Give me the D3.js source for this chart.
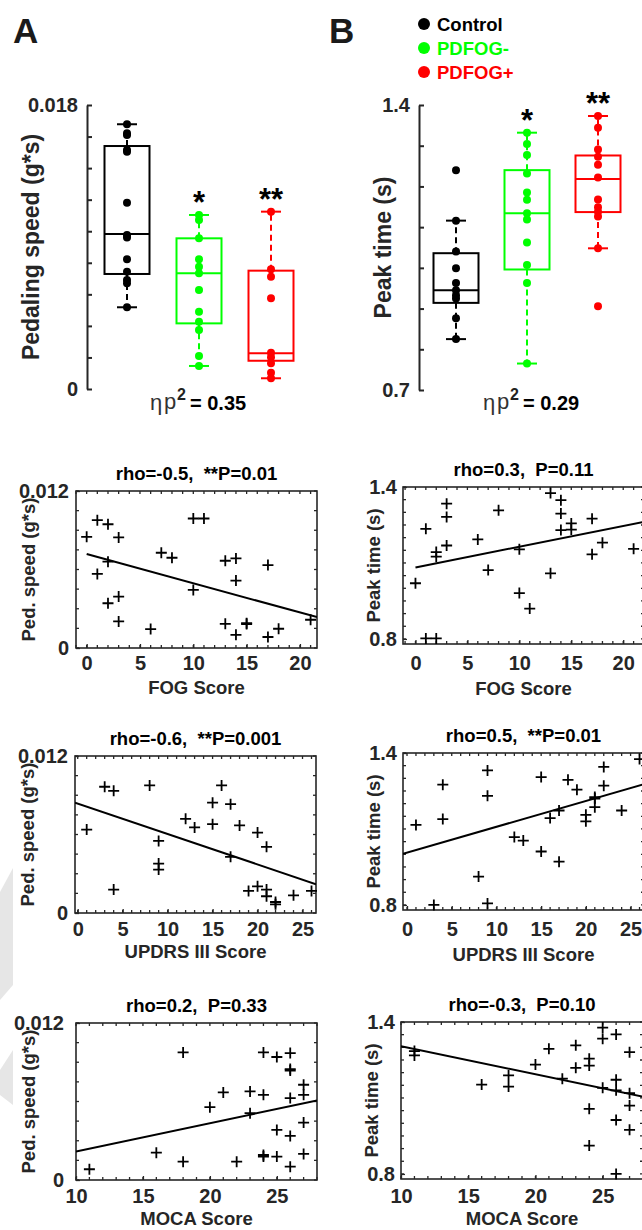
<!DOCTYPE html>
<html><head><meta charset="utf-8">
<script src="https://cdn.jsdelivr.net/npm/d3@7"></script>
<style>
body{margin:0;background:#fff}
svg{display:block}
text{font-family:Arial,"Liberation Sans",Helvetica,sans-serif}
</style>
</head><body>
<svg id="c" width="642" height="1230"></svg>
<script>
// ---------------- DATA ----------------
const groups = ["Control", "PDFOG-", "PDFOG+"];
const groupColors = ["#000000", "#00ff00", "#ff0000"];

// Panel A: pedaling speed (g*s)
const speedControl = [0.01678,0.01621,0.01610,0.01515,0.01504,0.01181,0.00976,0.00961,0.00822,0.00743,0.00691,0.00670,0.00518];
const speedPDFOGneg = [0.01103,0.01071,0.00955,0.00822,0.00775,0.00733,0.00627,0.00490,0.00427,0.00374,0.00209,0.00146];
const speedPDFOGpos = [0.01124,0.00759,0.00712,0.00575,0.00230,0.00201,0.00163,0.00103,0.00068];
// [lower whisker, q1, median, q3, upper whisker]
const speedBoxControl = [0.00518,0.00729,0.00982,0.01540,0.01678];
const speedBoxPDFOGneg = [0.00146,0.00416,0.00733,0.00955,0.01103];
const speedBoxPDFOGpos = [0.00068,0.00179,0.00226,0.00750,0.01124];
const speedStars = ["", "*", "**"];
const speedTickValues = [0, 0.018];
const speedTickLabels = ["0", "0.018"];
const speedEta = "0.35";

// Panel B: peak time (s)
const peakControl = [1.240,1.116,1.040,0.999,0.963,0.945,0.933,0.925,0.876,0.825];
const peakPDFOGneg = [1.332,1.304,1.277,1.232,1.185,1.167,1.134,1.119,1.062,1.007,0.963,0.765];
const peakPDFOGpos = [1.373,1.344,1.291,1.273,1.253,1.222,1.168,1.149,1.138,1.126,1.048,0.906];
const peakBoxControl = [0.825,0.914,0.945,1.036,1.116];
const peakBoxPDFOGneg = [0.765,0.996,1.134,1.240,1.332];
const peakBoxPDFOGpos = [1.048,1.137,1.218,1.276,1.373];
const peakStars = ["", "*", "**"];
const peakTickValues = [0.7, 1.4];
const peakTickLabels = ["0.7", "1.4"];
const peakEta = "0.29";

// Scatter: FOG score
const fogScoreA = [0,1,2,3,2,1,2,3,3,6,7,8,10,11,10,13,14,14,13,14,15,15,17,17,18,21];
const pedSpeedVsFog = [0.0085,0.00977,0.00946,0.00845,0.0066,0.00566,0.00342,0.00393,0.00203,0.00145,0.00728,0.0069,0.0099,0.0099,0.00444,0.00667,0.00685,0.00515,0.00185,0.00101,0.0019,0.00183,0.00634,0.00084,0.00147,0.00216];
const fitSpeedFog = [[0,0.00718],[21.6,0.00236]];
const fogScoreB = [0,1,1,2,2,2,3,3,3,6,7,8,10,10,11,13,13,14,14,14,15,15,17,17,18,21];
const peakVsFog = [1.020,1.235,0.802,0.802,1.143,1.125,1.334,1.282,1.169,1.193,1.072,1.308,1.154,0.981,0.920,1.376,1.059,1.348,1.295,1.230,1.256,1.232,1.275,1.134,1.180,1.156];
const fitPeakFog = [[0,1.082],[23,1.271]];

// Scatter: UPDRS III score
const updrsScoreA = [1,3,4,4,8,9,9,9,12,13,15,15,16,17,17,18,20,21,19,20,21,21,22,22,24,26];
const pedSpeedVsUpdrs = [0.00638,0.00965,0.00934,0.00179,0.00975,0.00551,0.00378,0.00332,0.0072,0.00654,0.00843,0.00679,0.00975,0.00832,0.00429,0.00669,0.00615,0.00506,0.00169,0.00204,0.00179,0.00128,0.00084,0.00066,0.00135,0.00169];
const fitSpeedUpdrs = [[-0.3,0.00843],[26.5,0.0022]];
const updrsScoreB = [1,3,4,4,8,9,9,9,12,13,15,15,16,17,17,18,19,20,20,21,21,22,22,24,26,21];
const peakVsUpdrs = [1.116,0.800,1.275,1.139,0.912,1.331,1.231,0.806,1.068,1.054,1.305,1.011,1.143,1.173,0.971,1.294,1.255,1.156,1.130,1.226,1.186,1.345,1.271,1.173,1.376,1.220];
const fitPeakUpdrs = [[-0.45,1.002],[28,1.292]];

// Scatter: MOCA score
const mocaScoreA = [11,16,18,18,20,21,22,23,23,24,24,24,24,25,25,25,26,26,26,26,26,26,27,27,27,27];
const pedSpeedVsMoca = [0.00082,0.00209,0.00975,0.0014,0.00557,0.00669,0.0014,0.00677,0.00511,0.00975,0.00651,0.00191,0.00179,0.0094,0.00383,0.00179,0.0097,0.00848,0.00837,0.00626,0.00337,0.00102,0.00728,0.00651,0.00439,0.00199];
const fitSpeedMoca = [[10,0.00217],[28,0.00608]];
const mocaScoreB = [11,11,16,18,18,20,21,22,23,23,24,24,24,24,25,25,25,26,26,26,26,26,27,27,27,27];
const peakVsMoca = [1.285,1.268,1.153,1.189,1.145,1.232,1.294,1.176,1.308,1.219,1.255,1.228,1.057,0.912,1.378,1.334,1.140,1.351,1.172,1.130,1.013,0.800,1.281,1.119,1.070,0.974];
const fitPeakMoca = [[10,1.304],[29,1.094]];

const scatterTitles = ["rho=-0.5,  **P=0.01","rho=0.3,  P=0.11","rho=-0.6,  **P=0.001","rho=0.5,  **P=0.01","rho=0.2,  P=0.33","rho=-0.3,  P=0.10"];
const fogTicks = [0,5,10,15,20];
const updrsTicks = [0,5,10,15,20,25];
const mocaTicks = [10,15,20,25];
const speedScatterTicks = [0, 0.012];
const speedScatterTickLabels = ["0", "0.012"];
const peakScatterTicks = [0.8, 1.4];
const peakScatterTickLabels = ["0.8", "1.4"];

// ---------------- DRAW ----------------
const svg = d3.select("#c");
svg.append("rect").attr("width",642).attr("height",1230).attr("fill","#fff");
const AX = "#262626";
const FONT = 'Arial,"Liberation Sans",Helvetica,sans-serif';

// faint watermark shapes at the left edge
const wm = [[[0,892],[13,868],[13,985],[0,1000]],[[0,1070],[13,1050],[13,1105],[0,1095]]];
wm.forEach(p => svg.append("path").attr("d", d3.line()(p) + "Z").attr("fill", "#e6e6e6"));

// panel letters
svg.append("text").attr("x",13).attr("y",43).attr("font-size",35).attr("font-weight","bold").attr("fill","#1a1a1a").text("A");
svg.append("text").attr("x",329).attr("y",43).attr("font-size",35).attr("font-weight","bold").attr("fill","#1a1a1a").text("B");

// legend
const leg = svg.append("g");
groups.forEach((gname, i) => {
  leg.append("circle").attr("cx",424).attr("cy",24 + i*24).attr("r",6).attr("fill",groupColors[i]);
  leg.append("text").attr("x",437).attr("y",30.5 + i*24).attr("font-size",18.5).attr("font-weight","bold")
    .attr("fill",groupColors[i]).text(gname);
});

function boxPanel(cfg) {
  const y = d3.scaleLinear().domain(cfg.yDomain).range([cfg.bottom, cfg.top]);
  const x = d3.scalePoint().domain(groups).range(cfg.xRange);
  const n = Math.round((cfg.yDomain[1]-cfg.yDomain[0])/cfg.step);
  const tv = d3.range(n+1).map(i => cfg.yDomain[0] + i*cfg.step);
  const axis = d3.axisLeft(y).tickValues(tv).tickSizeInner(-5).tickSizeOuter(0).tickPadding(9)
    .tickFormat(d => { const k = cfg.tickValues.findIndex(v => Math.abs(v-d) < 1e-9); return k >= 0 ? cfg.tickLabels[k] : ""; });
  const g = svg.append("g").attr("transform", `translate(${cfg.axisX},0)`).call(axis);
  g.select(".domain").attr("stroke", AX).attr("stroke-width", 2);
  g.selectAll(".tick line").attr("stroke", AX).attr("stroke-width", 2);
  g.selectAll(".tick text").attr("font-size", 20).attr("font-weight","bold").attr("fill", AX).attr("font-family", FONT);

  const bw = 45, cw = 10;
  groups.forEach((gname, i) => {
    const s = cfg.stats[i], col = groupColors[i], cx = x(gname);
    const gg = svg.append("g");
    gg.append("line").attr("x1",cx).attr("x2",cx).attr("y1",y(s[3])).attr("y2",y(s[4]))
      .attr("stroke",col).attr("stroke-width",2).attr("stroke-dasharray","6,4");
    gg.append("line").attr("x1",cx).attr("x2",cx).attr("y1",y(s[1])).attr("y2",y(s[0]))
      .attr("stroke",col).attr("stroke-width",2).attr("stroke-dasharray","6,4");
    [s[0], s[4]].forEach(v => gg.append("line").attr("x1",cx-cw).attr("x2",cx+cw).attr("y1",y(v)).attr("y2",y(v))
      .attr("stroke",col).attr("stroke-width",2));
    gg.append("rect").attr("x",cx-bw/2).attr("width",bw).attr("y",y(s[3])).attr("height",y(s[1])-y(s[3]))
      .attr("fill","none").attr("stroke",col).attr("stroke-width",2);
    gg.append("line").attr("x1",cx-bw/2).attr("x2",cx+bw/2).attr("y1",y(s[2])).attr("y2",y(s[2]))
      .attr("stroke",col).attr("stroke-width",2);
    gg.selectAll("circle.pt").data(cfg.points[i]).join("circle").attr("class","pt")
      .attr("cx",cx).attr("cy",d => y(d)).attr("r",4).attr("fill",col);
    if (cfg.stars[i]) {
      svg.append("text").attr("x",cx).attr("y",y(s[4]) - 2).attr("text-anchor","middle")
        .attr("font-size",31).attr("font-weight","bold").attr("fill","#000").text(cfg.stars[i]);
    }
  });

  // y label
  svg.append("text").attr("transform",`translate(${cfg.labelX},${(cfg.top+cfg.bottom)/2}) rotate(-90)`)
    .attr("text-anchor","middle").attr("font-size",23).attr("font-weight","bold").attr("fill",AX).text(cfg.label);

  // eta_p^2
  const ex = cfg.etaX, ey = 410;
  svg.append("text").attr("x",ex).attr("y",ey).attr("font-size",22).attr("fill","#333").text("η");
  svg.append("text").attr("x",ex+14).attr("y",ey-1).attr("font-size",22).attr("fill","#333").text("p");
  svg.append("text").attr("x",ex+27).attr("y",ey-10).attr("font-size",16).attr("font-weight","bold").attr("fill","#222").text("2");
  svg.append("text").attr("x",ex+40).attr("y",ey).attr("font-size",20).attr("font-weight","bold").attr("fill","#000").text("= " + cfg.eta);
}

boxPanel({yDomain:[0,0.018], step:0.002, top:105, bottom:389, axisX:87, xRange:[127,271],
  stats:[speedBoxControl, speedBoxPDFOGneg, speedBoxPDFOGpos], points:[speedControl, speedPDFOGneg, speedPDFOGpos],
  stars:speedStars, tickValues:speedTickValues, tickLabels:speedTickLabels, label:"Pedaling speed (g*s)", labelX:39,
  etaX:150, eta:speedEta});
boxPanel({yDomain:[0.7,1.4], step:0.1, top:105, bottom:390, axisX:419, xRange:[456,598],
  stats:[peakBoxControl, peakBoxPDFOGneg, peakBoxPDFOGpos], points:[peakControl, peakPDFOGneg, peakPDFOGpos],
  stars:peakStars, tickValues:peakTickValues, tickLabels:peakTickLabels, label:"Peak time (s)", labelX:391,
  etaX:483, eta:peakEta});

let clipId = 0;
function scatter(cfg) {
  const x = d3.scaleLinear().domain(cfg.xDomain).range([cfg.x0, cfg.x0 + cfg.w]);
  const y = d3.scaleLinear().domain(cfg.yDomain).range([cfg.y0 + cfg.h, cfg.y0]);
  const g = svg.append("g");
  const id = "clip" + (clipId++);
  g.append("clipPath").attr("id", id).append("rect").attr("x",cfg.x0).attr("y",cfg.y0).attr("width",cfg.w).attr("height",cfg.h);

  // minor ticks
  const xm = d3.range(Math.ceil(cfg.xDomain[0]), Math.floor(cfg.xDomain[1]) + 1, 1);
  xm.forEach(v => {
    const px = x(v);
    g.append("line").attr("x1",px).attr("x2",px).attr("y1",cfg.y0+cfg.h).attr("y2",cfg.y0+cfg.h-3).attr("stroke",AX).attr("stroke-width",1.3);
    g.append("line").attr("x1",px).attr("x2",px).attr("y1",cfg.y0).attr("y2",cfg.y0+3).attr("stroke",AX).attr("stroke-width",1.3);
  });
  const ny = Math.floor((cfg.yDomain[1] - cfg.yStart) / cfg.yStep + 1e-6);
  d3.range(ny + 1).map(i => cfg.yStart + i*cfg.yStep).forEach(v => {
    const py = y(v);
    g.append("line").attr("x1",cfg.x0).attr("x2",cfg.x0+3).attr("y1",py).attr("y2",py).attr("stroke",AX).attr("stroke-width",1.3);
    g.append("line").attr("x1",cfg.x0+cfg.w).attr("x2",cfg.x0+cfg.w-3).attr("y1",py).attr("y2",py).attr("stroke",AX).attr("stroke-width",1.3);
  });

  // axes (labels)
  const xa = d3.axisBottom(x).tickValues(cfg.xTicks).tickSizeInner(-4).tickSizeOuter(0).tickPadding(cfg.xTickBase - 14.2);
  const gx = g.append("g").attr("transform",`translate(0,${cfg.y0+cfg.h})`).call(xa);
  gx.select(".domain").remove();
  gx.selectAll(".tick line").attr("stroke",AX).attr("stroke-width",1.3);
  gx.selectAll(".tick text").attr("font-size",20).attr("font-weight","bold").attr("fill",AX).attr("font-family",FONT);

  const ya = d3.axisLeft(y).tickValues(cfg.yTicks).tickSizeInner(-4).tickSizeOuter(0).tickPadding(cfg.yPad)
    .tickFormat((d, i) => cfg.yTickLabels[i]);
  const gy = g.append("g").attr("transform",`translate(${cfg.x0},0)`).call(ya);
  gy.select(".domain").remove();
  gy.selectAll(".tick line").attr("stroke",AX).attr("stroke-width",1.3);
  gy.selectAll(".tick text").attr("font-size",20).attr("font-weight","bold").attr("fill",AX).attr("font-family",FONT);

  // box
  g.append("rect").attr("x",cfg.x0).attr("y",cfg.y0).attr("width",cfg.w).attr("height",cfg.h)
    .attr("fill","none").attr("stroke",AX).attr("stroke-width",1.6);

  // regression line
  g.append("path").attr("clip-path",`url(#${id})`)
    .attr("d", d3.line().x(d => x(d[0])).y(d => y(d[1]))(cfg.fit))
    .attr("fill","none").attr("stroke","#000").attr("stroke-width",2);

  // crosses
  const pts = cfg.xs.map((v, i) => [v, cfg.ys[i]]);
  const s = 5.5;
  g.selectAll("path.cross").data(pts).join("path").attr("class","cross")
    .attr("d", d => { const px = x(d[0]), py = y(d[1]); return `M${px-s},${py}H${px+s}M${px},${py-s}V${py+s}`; })
    .attr("stroke","#000").attr("stroke-width",1.8).attr("fill","none");

  // title
  g.append("text").attr("x",cfg.x0 + cfg.w/2).attr("y",cfg.y0 - 11).attr("text-anchor","middle")
    .attr("font-size",18.5).attr("font-weight","bold").attr("fill","#000").style("white-space","pre").text(cfg.title);
  // x label
  g.append("text").attr("x",cfg.x0 + cfg.w/2).attr("y",cfg.y0 + cfg.h + cfg.xLabelOff).attr("text-anchor","middle")
    .attr("font-size",18.5).attr("font-weight","bold").attr("fill",AX).text(cfg.xLabel);
  // y label
  g.append("text").attr("transform",`translate(${cfg.x0 - cfg.yLabelOff},${cfg.y0 + cfg.h/2}) rotate(-90)`)
    .attr("text-anchor","middle").attr("font-size",18.5).attr("font-weight","bold").attr("fill",AX).text(cfg.yLabel);
}

const leftSpeed = {yDomain:[0,0.012], yStart:0, yStep:0.0015, yTicks:speedScatterTicks, yTickLabels:speedScatterTickLabels, yLabel:"Ped. speed (g*s)", yLabelOff:41, yPad:7};
const rightPeak = {yDomain:[0.78,1.4], yStart:0.8, yStep:0.05, yTicks:peakScatterTicks, yTickLabels:peakScatterTickLabels, yLabel:"Peak time (s)", yLabelOff:23, yPad:6};

scatter(Object.assign({}, leftSpeed, {x0:76, y0:491, w:241, h:157, xDomain:[-1,21.6], xTicks:fogTicks, xTickBase:22, xLabelOff:46,
  xs:fogScoreA, ys:pedSpeedVsFog, fit:fitSpeedFog, title:scatterTitles[0], xLabel:"FOG Score"}));
scatter(Object.assign({}, rightPeak, {x0:403, y0:487, w:241, h:157, xDomain:[-1.2,22], xTicks:fogTicks, xTickBase:26, xLabelOff:51,
  xs:fogScoreB, ys:peakVsFog, fit:fitPeakFog, title:scatterTitles[1], xLabel:"FOG Score"}));
scatter(Object.assign({}, leftSpeed, {x0:75, y0:756, w:241, h:157, xDomain:[-0.3,26.5], xTicks:updrsTicks, xTickBase:22.5, xLabelOff:45,
  xs:updrsScoreA, ys:pedSpeedVsUpdrs, fit:fitSpeedUpdrs, title:scatterTitles[2], xLabel:"UPDRS III Score"}));
scatter(Object.assign({}, rightPeak, {x0:403, y0:753, w:241, h:157, xDomain:[-0.45,26.5], xTicks:updrsTicks, xTickBase:26, xLabelOff:51,
  xs:updrsScoreB, ys:peakVsUpdrs, fit:fitPeakUpdrs, title:scatterTitles[3], xLabel:"UPDRS III Score"}));
scatter(Object.assign({}, leftSpeed, {x0:76, y0:1023, w:241, h:157, xDomain:[10,28], xTicks:mocaTicks, xTickBase:23, xLabelOff:45, yPad:12,
  xs:mocaScoreA, ys:pedSpeedVsMoca, fit:fitSpeedMoca, title:scatterTitles[4], xLabel:"MOCA Score"}));
scatter(Object.assign({}, rightPeak, {x0:401, y0:1022, w:242, h:157, xDomain:[10,28], xTicks:mocaTicks, xTickBase:24, xLabelOff:46,
  xs:mocaScoreB, ys:peakVsMoca, fit:fitPeakMoca, title:scatterTitles[5], xLabel:"MOCA Score"}));
</script>
</body></html>
